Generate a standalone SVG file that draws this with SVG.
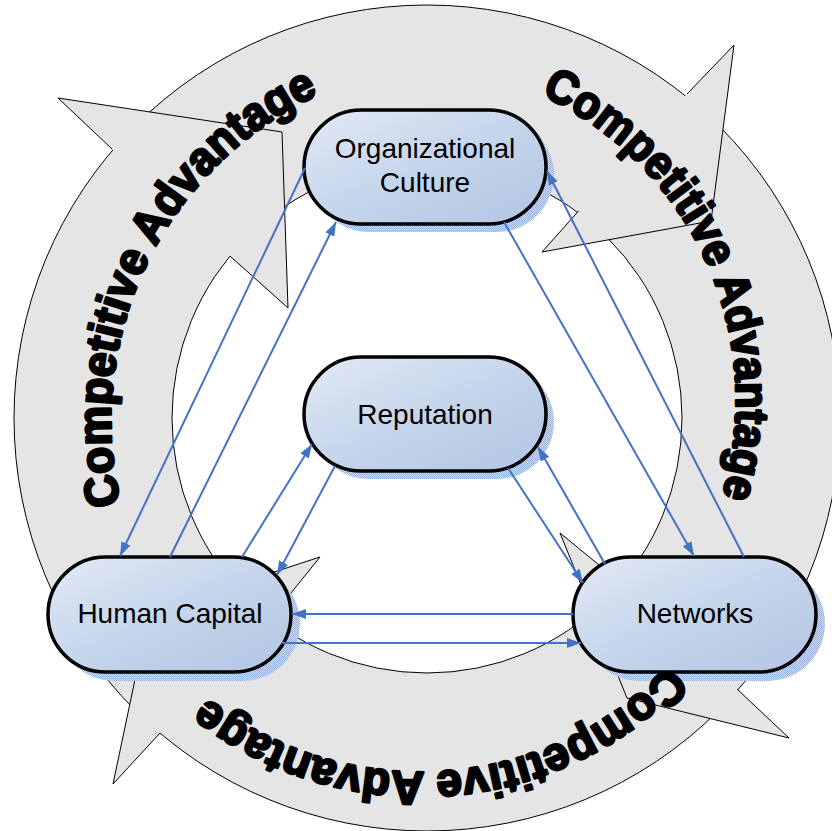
<svg xmlns="http://www.w3.org/2000/svg" width="832" height="831" viewBox="0 0 832 831">
<style>
.ring{fill:#e5e5e5;stroke:#000;stroke-width:1;fill-rule:evenodd}
.head{fill:#e5e5e5;stroke:#000;stroke-width:1;stroke-linejoin:miter}
.ca{font-family:"Liberation Sans",Arial,sans-serif;font-weight:bold;font-size:47px;fill:#000;stroke:#000;stroke-width:2.6;stroke-linejoin:round}
.conn{stroke:#4472c4;stroke-width:2;fill:none;marker-end:url(#ah)}
.pill{fill:url(#g);stroke:#000;stroke-width:3.5}
.shadow{fill:url(#hatch)}
.lbl{font-family:"Liberation Sans",Arial,sans-serif;font-size:28px;fill:#000;text-anchor:middle}
</style>
<defs>
<linearGradient id="g" x1="0" y1="0" x2="1" y2="1">
<stop offset="0" stop-color="#e2eaf6"/>
<stop offset="0.55" stop-color="#c3d3ea"/>
<stop offset="1" stop-color="#b2c5e3"/>
</linearGradient>
<pattern id="hatch" width="2" height="2" patternUnits="userSpaceOnUse">
<rect width="2" height="2" fill="#d2ddf0"/>
<rect width="1" height="1" fill="#96b0dc"/>
<rect x="1" y="1" width="1" height="1" fill="#96b0dc"/>
</pattern>
<marker id="ah" viewBox="0 0 14 10" refX="14" refY="5" markerWidth="14" markerHeight="10" markerUnits="userSpaceOnUse" orient="auto">
<path d="M0,0 L14,5 L0,10 Z" fill="#4472c4"/>
</marker>
<path id="t1" d="M120.9,503.8 A359,359 0 0 1 448.1,61.7"/>
<path id="t2" d="M541,95 A336,336 0 0 1 675.9,591.8"/>
<path id="t3" d="M668.1,665.4 A342,342 0 0 1 145.1,633.4"/>
</defs>

<g id="ring">
<path class="ring" d="M427,5 A413,413 0 1 1 427,831 A413,413 0 1 1 427,5 Z M427,163 A255,255 0 1 0 427,673 A255,255 0 1 0 427,163 Z"/>
<path class="head" d="M112,149 L58,98 L282,132 L288,308 L230,256"/>
<path class="head" d="M687,94 L734,45 L711,221 L542,252 L578.5,211"/>
<path class="head" d="M737,689 L789,738 L627,698 L560,533 L621,583"/>
<path class="head" d="M160,733 L113,784 L149,613 L320,557 L270,619"/>
</g>

<g id="node-org">
<rect class="shadow" x="312" y="118" width="242" height="114" rx="57"/>
<rect class="pill" x="304" y="110" width="242" height="114" rx="57"/>
<text class="lbl" x="425" y="158">Organizational</text>
<text class="lbl" x="425" y="192">Culture</text>
</g>
<g id="node-rep">
<rect class="shadow" x="312" y="365" width="242" height="114" rx="57"/>
<rect class="pill" x="304" y="357" width="242" height="114" rx="57"/>
<text class="lbl" x="425" y="424">Reputation</text>
</g>
<g id="node-hc">
<rect class="shadow" x="57" y="566" width="243" height="115" rx="57.5"/>
<rect class="pill" x="48" y="557" width="243" height="115" rx="57.5"/>
<text class="lbl" x="170" y="623">Human Capital</text>
</g>
<g id="node-net">
<rect class="shadow" x="582" y="566" width="243" height="115" rx="57.5"/>
<rect class="pill" x="573" y="557" width="243" height="115" rx="57.5"/>
<text class="lbl" x="695" y="623">Networks</text>
</g>

<g id="connectors">
<line class="conn" x1="305" y1="168" x2="120" y2="556"/>
<line class="conn" x1="170" y1="557" x2="336" y2="222"/>
<line class="conn" x1="242" y1="557" x2="312" y2="444"/>
<line class="conn" x1="335" y1="466" x2="277" y2="575"/>
<line class="conn" x1="573" y1="614" x2="292" y2="614"/>
<line class="conn" x1="282" y1="643" x2="581" y2="643"/>
<line class="conn" x1="508" y1="468" x2="583" y2="583"/>
<line class="conn" x1="605" y1="564" x2="538" y2="447"/>
<line class="conn" x1="504" y1="222" x2="694" y2="556"/>
<line class="conn" x1="744" y1="557" x2="547" y2="171"/>
</g>

<g id="ring-text">
<text class="ca"><textPath href="#t1" textLength="492" lengthAdjust="spacingAndGlyphs">Competitive Advantage</textPath></text>
<text class="ca"><textPath href="#t2" textLength="480" lengthAdjust="spacingAndGlyphs">Competitive Advantage</textPath></text>
<text class="ca"><textPath href="#t3" textLength="507" lengthAdjust="spacingAndGlyphs">Competitive Advantage</textPath></text>
</g>
</svg>
